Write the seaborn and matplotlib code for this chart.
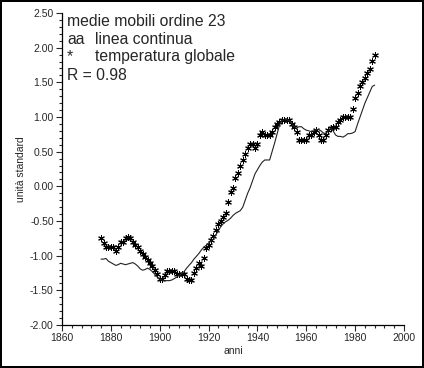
import numpy as np
import pandas as pd
import matplotlib
matplotlib.use('Agg')
import matplotlib.pyplot as plt
import seaborn as sns
from matplotlib.ticker import MultipleLocator, FormatStrFormatter

# anni osservati
years = list(range(1876, 1989))

# temperatura globale (asterischi), unita standard
temperature = [
    -0.75, -0.82, -0.87, -0.87, -0.87, -0.87, -0.93, -0.87, -0.80, -0.80,
    -0.75, -0.73, -0.75, -0.80, -0.85, -0.88, -0.93, -0.97, -1.02, -1.06,
    -1.10, -1.15, -1.20, -1.27, -1.33, -1.33, -1.28, -1.22, -1.22, -1.22,
    -1.22, -1.27, -1.27, -1.27, -1.27, -1.33, -1.35, -1.35, -1.25, -1.18,
    -1.10, -1.15, -1.04, -0.89, -0.85, -0.78, -0.72, -0.63, -0.55, -0.50,
    -0.44, -0.38, -0.22, -0.08, -0.03, 0.12, 0.19, 0.30, 0.38, 0.47,
    0.55, 0.61, 0.61, 0.55, 0.61, 0.74, 0.79, 0.74, 0.74, 0.74,
    0.78, 0.86, 0.90, 0.93, 0.96, 0.96, 0.96, 0.95, 0.90, 0.86,
    0.79, 0.67, 0.67, 0.67, 0.67, 0.74, 0.74, 0.78, 0.81, 0.74,
    0.67, 0.67, 0.74, 0.81, 0.84, 0.86, 0.86, 0.93, 0.96, 1.00,
    1.00, 1.00, 1.00, 1.12, 1.27, 1.34, 1.45, 1.50, 1.56, 1.63,
    1.69, 1.81, 1.89,
]

# aa, linea continua
aa = [
    -1.05, -1.05, -1.04, -1.08, -1.10, -1.12, -1.14, -1.13, -1.11, -1.12,
    -1.13, -1.12, -1.11, -1.10, -1.12, -1.15, -1.19, -1.21, -1.20, -1.18,
    -1.20, -1.23, -1.27, -1.31, -1.34, -1.35, -1.36, -1.36, -1.36, -1.35,
    -1.33, -1.31, -1.28, -1.26, -1.23, -1.18, -1.14, -1.10, -1.05, -1.01,
    -0.97, -0.92, -0.88, -0.85, -0.82, -0.79, -0.76, -0.70, -0.64, -0.58,
    -0.54, -0.51, -0.49, -0.46, -0.42, -0.39, -0.37, -0.35, -0.30, -0.20,
    -0.10, -0.02, 0.08, 0.18, 0.24, 0.30, 0.35, 0.38, 0.38, 0.38,
    0.50, 0.62, 0.75, 0.88, 0.95, 0.96, 0.96, 0.95, 0.91, 0.86,
    0.84, 0.86, 0.86, 0.83, 0.81, 0.80, 0.79, 0.80, 0.82, 0.82,
    0.80, 0.77, 0.76, 0.80, 0.84, 0.80, 0.74, 0.72, 0.72, 0.71,
    0.73, 0.76, 0.76, 0.77, 0.79, 0.90, 1.00, 1.10, 1.20, 1.28,
    1.36, 1.44, 1.46,
]

df = pd.DataFrame({'anni': years, 'temperatura': temperature, 'aa': aa})

sns.set_style('ticks')
plt.rcParams['font.family'] = ['Liberation Sans', 'DejaVu Sans']

W, H = 424, 368
fig = plt.figure(figsize=(W / 100, H / 100), dpi=100, facecolor='white')
fig.patch.set_edgecolor('black')
fig.patch.set_linewidth(1.5)
ax = fig.add_axes([62 / W, 1 - 325 / H, (404 - 62) / W, (325 - 13) / H])

sns.lineplot(data=df, x='anni', y='aa', color='#222222', linewidth=0.8, ax=ax)
sns.scatterplot(data=df, x='anni', y='temperatura', marker=(6, 2, 0), s=18,
                color='black', linewidth=0.75, ax=ax)

ax.set_xlim(1860, 2000)
ax.set_ylim(-2.0, 2.5)
ax.xaxis.set_major_locator(MultipleLocator(20))
ax.xaxis.set_minor_locator(MultipleLocator(4))
ax.yaxis.set_major_locator(MultipleLocator(0.5))
ax.yaxis.set_minor_locator(MultipleLocator(0.1))
ax.yaxis.set_major_formatter(FormatStrFormatter('%.2f'))
ax.tick_params(which='major', direction='out', length=4, width=0.8, labelsize=7.5, pad=2)
ax.tick_params(which='minor', direction='out', length=2.5, width=0.8)
ax.set_xlabel('anni', fontsize=7.5, labelpad=2)
ax.set_ylabel('unità standard', fontsize=7.5, labelpad=3)
sns.despine(ax=ax)
for s in ['left', 'bottom']:
    ax.spines[s].set_linewidth(0.9)
    ax.spines[s].set_color('black')

# legenda testuale
fs = 11.3
def px(x, y):
    return x / W, 1 - y / H

fig.text(*px(67, 21), 'medie mobili ordine 23', fontsize=fs, va='center', ha='left')
fig.text(*px(67, 39), 'aa', fontsize=fs, va='center', ha='left')
fig.text(*px(95, 39), 'linea continua', fontsize=fs, va='center', ha='left')
fig.text(*px(67, 57), '*', fontsize=fs, va='center', ha='left')
fig.text(*px(95, 57), 'temperatura globale', fontsize=fs, va='center', ha='left')
fig.text(*px(67, 75), 'R = 0.98', fontsize=fs, va='center', ha='left')

fig.savefig('out.png', dpi=100, facecolor=fig.get_facecolor(), edgecolor=fig.get_edgecolor())
